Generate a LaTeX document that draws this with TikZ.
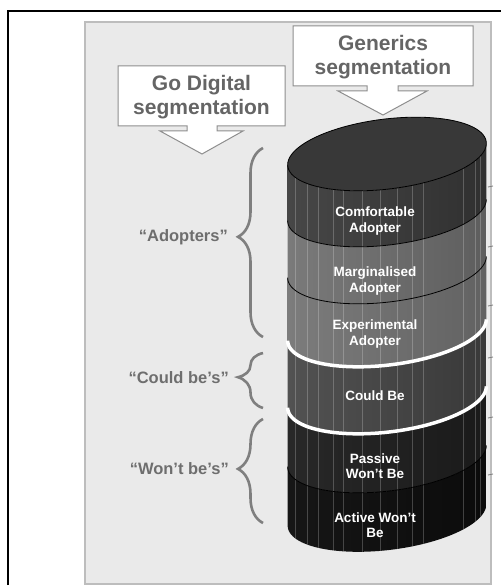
\documentclass[tikz,border=0pt]{standalone}
\usepackage{fontspec}
\setmainfont{Liberation Sans}
\usetikzlibrary{decorations.pathreplacing, calc}
\definecolor{PanelGray}{HTML}{EAEAEA}
\definecolor{PanelLine}{HTML}{BDBDBD}
\definecolor{BoxLine}{HTML}{8E8E8E}
\definecolor{HeadGray}{HTML}{656565}
\definecolor{LabelGray}{HTML}{6E6E6E}
\definecolor{BraceGray}{HTML}{7F7F7F}
\definecolor{TopGray}{HTML}{383838}
\definecolor{ComfL}{HTML}{474747}
\definecolor{ComfR}{HTML}{303030}
\definecolor{MargL}{HTML}{7A7A7A}
\definecolor{MargR}{HTML}{5E5E5E}
\definecolor{ExpL}{HTML}{7C7C7C}
\definecolor{ExpR}{HTML}{626262}
\definecolor{CouldL}{HTML}{525252}
\definecolor{CouldR}{HTML}{393939}
\definecolor{PassL}{HTML}{282828}
\definecolor{PassR}{HTML}{1A1A1A}
\definecolor{ActL}{HTML}{161616}
\definecolor{ActR}{HTML}{0B0B0B}
\tikzset{
  declare function={ellx(\t)=387+100*cos(\t)*cos(7)+35*sin(\t)*sin(7);
                    elly(\t,\c)=\c-100*cos(\t)*sin(7)+35*sin(\t)*cos(7);},
  callout/.style={draw=BoxLine, fill=white, line width=1pt},
  hdrtext/.style={font=\bfseries\fontsize{21}{24}\selectfont, text=HeadGray,
    align=center, inner sep=0pt},
  grplabel/.style={font=\bfseries\fontsize{16.5}{19}\selectfont, text=LabelGray,
    anchor=east, inner sep=0pt},
  grpbrace/.style={decorate, decoration={brace, amplitude=25pt, aspect=#1},
    draw=BraceGray, line width=2.6pt},
  seglabel/.style={font=\bfseries\fontsize{13.5}{15.5}\selectfont, text=white,
    align=center, inner sep=0pt},
  segline/.style={draw=black, line width=0.8pt},
  gapline/.style={draw=white, line width=3.5pt},
  stripe/.style={draw=white, opacity=0.22, line width=0.6pt},
  tick/.style={draw=gray, line width=0.8pt},
}
\begin{document}
\begin{tikzpicture}[x=1pt, y=-1pt]
  \useasboundingbox (0,0) rectangle (501,588);
  % frame and panel
  \draw[line width=2pt] (7.5,585) -- (7.5,11) -- (501,11);
  \filldraw[fill=PanelGray, draw=PanelLine, line width=1.2pt] (85,22) rectangle (491,584);

  % header callouts
  \begin{scope}[shift={(383,56)}]
    \draw[callout] (-90,-30) -- (90,-30) -- (90,30) -- (15,30) -- (15,35) -- (44,35)
      -- (0,59) -- (-45,35) -- (-16,35) -- (-16,30) -- (-90,30) -- cycle;
    \node[hdrtext] (gen) at (0,1) {Generics\\segmentation};
  \end{scope}
  \begin{scope}[shift={(201.5,96)}]
    \draw[callout] (-83.5,-30) -- (83.5,-30) -- (83.5,30) -- (15.5,30) -- (15.5,35) -- (41.5,35)
      -- (0.5,58) -- (-41.5,35) -- (-14.5,35) -- (-14.5,30) -- (-83.5,30) -- cycle;
    \node[hdrtext] (godig) at (0,1) {Go Digital\\segmentation};
  \end{scope}

  % cylinder bands
  \foreach \up/\lo/\lc/\rc in {154/210/ComfL/ComfR, 210/267/MargL/MargR,
      267/330/ExpL/ExpR, 330/397/CouldL/CouldR, 397/456/PassL/PassR, 456/515/ActL/ActR}
    \shade[left color=\lc, right color=\rc]
      plot[domain=2.46:182.46, samples=60] ({ellx(\x)},{elly(\x,\lo)})
      -- plot[domain=0:180, samples=60] ({ellx(182.46-\x)},{elly(182.46-\x,\up)}) -- cycle;

  % facet stripes
  \begin{scope}
    \clip plot[domain=2.46:182.46, samples=60] ({ellx(\x)},{elly(\x,515)})
      -- plot[domain=0:180, samples=60] ({ellx(182.46-\x)},{elly(182.46-\x,154)}) -- cycle;
    \foreach \sx in {295,307,318,333,343,362,380,397,412,423,463,475,480}
      \draw[stripe] (\sx,100) -- (\sx,570);
  \end{scope}

  % boundaries
  \foreach \c in {210,267,456}
    \draw[segline] plot[domain=2.46:182.46, samples=60] ({ellx(\x)},{elly(\x,\c)});
  \foreach \c in {330,397}
    \draw[gapline] plot[domain=2.46:182.46, samples=60] ({ellx(\x)},{elly(\x,\c)});
  \filldraw[fill=TopGray, draw=black, line width=0.8pt]
    plot[domain=0:360, samples=90] ({ellx(\x)},{elly(\x,154)}) -- cycle;

  \foreach \ty in {187,247,306,358,418,475}
    \draw[tick] (488,\ty) -- (493,\ty-1);

  % segment labels
  \node[seglabel] (comf) at (375,221) {Comfortable\\Adopter};
  \node[seglabel] (marg) at (375,281) {Marginalised\\Adopter};
  \node[seglabel] (expt) at (375,334) {Experimental\\Adopter};
  \node[seglabel] (could) at (375,396) {Could Be};
  \node[seglabel] (pass) at (375,466) {Passive\\Won’t Be};
  \node[seglabel] (act) at (375,525) {Active Won’t\\Be};

  % groups
  \draw[grpbrace=0.53] (263,337) -- (263,148);
  \draw[grpbrace=0.56] (263,408) -- (263,353);
  \draw[grpbrace=0.52] (263,523) -- (263,419);
  \node[grplabel] (adopt) at (228,237) {“Adopters”};
  \node[grplabel] (couldbe) at (229,378) {“Could be’s”};
  \node[grplabel] (wontbe) at (229,469) {“Won’t be’s”};
\end{tikzpicture}
\end{document}
